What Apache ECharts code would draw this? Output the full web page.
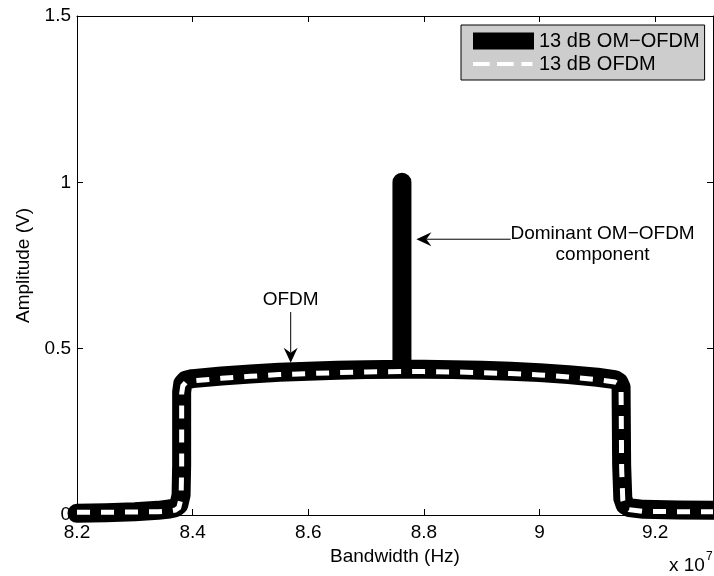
<!DOCTYPE html>
<html>
<head>
<meta charset="utf-8">
<script src="https://cdn.jsdelivr.net/npm/echarts@6/dist/echarts.min.js"></script>
<style>
  html, body { margin: 0; padding: 0; background: #fff; }
  #chart { width: 714px; height: 576px; }
</style>
</head>
<body>
<div id="chart"></div>
<script>
// 13 dB OM-OFDM spectrum: frequency (Hz) and amplitude (V)
const omFreq = [8.20e7, 8.25e7, 8.30e7, 8.34e7, 8.36e7, 8.370e7, 8.376e7, 8.380e7, 8.381e7, 8.381e7,
  8.383e7, 8.388e7, 8.40e7, 8.45e7, 8.50e7, 8.55e7, 8.60e7, 8.65e7, 8.70e7, 8.762e7, 8.762e7, 8.762e7,
  8.80e7, 8.85e7, 8.90e7, 8.95e7, 9.00e7, 9.05e7, 9.10e7, 9.13e7, 9.137e7, 9.141e7, 9.142e7, 9.144e7,
  9.148e7, 9.155e7, 9.18e7, 9.24e7, 9.30e7];
const omAmp = [0.005, 0.007, 0.010, 0.014, 0.018, 0.022, 0.030, 0.060, 0.150, 0.370,
  0.395, 0.405, 0.410, 0.418, 0.424, 0.429, 0.432, 0.435, 0.437, 0.438, 1.000, 0.438,
  0.438, 0.437, 0.435, 0.432, 0.428, 0.422, 0.414, 0.407, 0.400, 0.385, 0.150, 0.050,
  0.030, 0.022, 0.017, 0.015, 0.014];

// 13 dB OFDM spectrum
const ofdmFreq = [8.20e7, 8.25e7, 8.30e7, 8.34e7, 8.36e7, 8.370e7, 8.376e7, 8.380e7, 8.381e7, 8.381e7,
  8.383e7, 8.388e7, 8.40e7, 8.45e7, 8.50e7, 8.55e7, 8.60e7, 8.65e7, 8.70e7, 8.76e7,
  8.80e7, 8.85e7, 8.90e7, 8.95e7, 9.00e7, 9.05e7, 9.10e7, 9.13e7, 9.137e7, 9.141e7, 9.142e7, 9.144e7,
  9.148e7, 9.155e7, 9.18e7, 9.24e7, 9.30e7];
const ofdmAmp = [0.008, 0.008, 0.009, 0.010, 0.012, 0.015, 0.022, 0.050, 0.140, 0.365,
  0.388, 0.398, 0.403, 0.411, 0.417, 0.422, 0.425, 0.428, 0.430, 0.431,
  0.431, 0.430, 0.428, 0.425, 0.421, 0.415, 0.407, 0.400, 0.393, 0.378, 0.140, 0.045,
  0.025, 0.016, 0.011, 0.010, 0.010];

const seriesNames = ['13 dB OM\u2212OFDM', '13 dB OFDM'];

// Axis ranges
const xRange = [8.2e7, 9.3e7];
const xStep = 2e6;
const yRange = [0, 1.5];
const yStep = 0.5;

// Annotation anchors in data units: tail, tip and label centre
const peakNote = { text: 'Dominant OM\u2212OFDM\ncomponent', tail: [8.950e7, 0.829], tip: [8.787e7, 0.829], label: [9.109e7, 0.815] };
const ofdmNote = { text: 'OFDM', tail: [8.5696e7, 0.610], tip: [8.5696e7, 0.458], label: [8.5696e7, 0.6456] };

const FONT = 'Liberation Sans, Arial, Helvetica, sans-serif';
const FS = 19;

const pairs = (xs, ys) => xs.map((x, i) => [x, ys[i]]);

const baseAxis = {
  axisLine: { show: true, onZero: false, lineStyle: { color: '#000', width: 1 } },
  axisTick: { show: true, inside: true, length: 6, lineStyle: { color: '#000', width: 1 } },
  splitLine: { show: false },
  minorTick: { show: false }
};

// Legend keys drawn in a 61x17 box: a solid bar, and three white dashes
// (tiny corner squares pin the dash key to the full box)
const barIcon = 'path://M0,0h61v17h-61z';
const dashIcon = 'path://M0,0h0.01v0.01h-0.01zM60.99,16.99h0.01v0.01h-0.01z' +
  'M0,6.5h16.7v4h-16.7zM24,6.5h16.7v4h-16.7zM48.4,6.5h11v4h-11z';

const option = {
  animation: false,
  backgroundColor: '#fff',
  textStyle: { fontFamily: FONT, color: '#000' },
  grid: { left: 77, right: 1, top: 16, bottom: 61, containLabel: false, outerBoundsMode: 'none' },
  xAxis: [
    Object.assign({}, baseAxis, {
      type: 'value', position: 'bottom', min: xRange[0], max: xRange[1], interval: xStep,
      name: 'Bandwidth (Hz)', nameLocation: 'middle', nameGap: 29,
      nameTextStyle: { fontSize: FS, color: '#000', fontFamily: FONT },
      axisLabel: {
        show: true, fontSize: FS, color: '#000', margin: 8, fontFamily: FONT,
        showMaxLabel: false, showMinLabel: true,
        formatter: v => String(+(v / 1e7).toFixed(1))
      }
    }),
    Object.assign({}, baseAxis, {
      type: 'value', position: 'top', min: xRange[0], max: xRange[1], interval: xStep,
      axisLabel: { show: false }
    })
  ],
  yAxis: [
    Object.assign({}, baseAxis, {
      type: 'value', position: 'left', min: yRange[0], max: yRange[1], interval: yStep,
      name: 'Amplitude (V)', nameLocation: 'middle', nameGap: 44, nameRotate: 90,
      nameTextStyle: { fontSize: FS, color: '#000', fontFamily: FONT },
      axisLabel: { show: true, fontSize: FS, color: '#000', margin: 6, fontFamily: FONT }
    }),
    Object.assign({}, baseAxis, {
      type: 'value', position: 'right', min: yRange[0], max: yRange[1], interval: yStep,
      axisLabel: { show: false }
    })
  ],
  legend: {
    orient: 'vertical', left: 461, top: 25,
    padding: [5, 5, 5, 12], itemGap: 1, itemWidth: 61, itemHeight: 17,
    backgroundColor: '#cdcdcd', borderColor: '#000', borderWidth: 1, borderRadius: 0,
    selectedMode: false,
    textStyle: { fontSize: 20, color: '#000', lineHeight: 22, fontFamily: FONT },
    data: [
      { name: seriesNames[0], icon: barIcon, itemStyle: { color: '#000', borderWidth: 0 } },
      { name: seriesNames[1], icon: dashIcon, itemStyle: { color: '#fff', borderWidth: 0 } }
    ]
  },
  series: [
    {
      name: seriesNames[0], type: 'line', xAxisIndex: 0, yAxisIndex: 0,
      data: pairs(omFreq, omAmp), symbol: 'none', showSymbol: false, clip: true,
      color: '#000',
      lineStyle: { color: '#000', width: 19, cap: 'round', join: 'round' },
      z: 2
    },
    {
      name: seriesNames[1], type: 'line', xAxisIndex: 0, yAxisIndex: 0,
      data: pairs(ofdmFreq, ofdmAmp), symbol: 'none', showSymbol: false, clip: true,
      color: '#fff',
      lineStyle: { color: '#fff', width: 5, type: [13, 11], cap: 'butt', join: 'miter' },
      z: 3
    }
  ]
};

const chart = echarts.init(document.getElementById('chart'), null, { renderer: 'canvas' });
chart.setOption(option);

const toPx = p => chart.convertToPixel({ xAxisIndex: 0, yAxisIndex: 0 }, p);

// Line with a notched arrowhead at the tip
function arrow(tailData, tipData) {
  const a = toPx(tailData), b = toPx(tipData);
  const dx = b[0] - a[0], dy = b[1] - a[1];
  const len = Math.hypot(dx, dy);
  const ux = dx / len, uy = dy / len;
  const nx = -uy, ny = ux;
  const L = 15, W = 7, N = 10;
  const head = [
    [b[0], b[1]],
    [b[0] - ux * L + nx * W, b[1] - uy * L + ny * W],
    [b[0] - ux * N, b[1] - uy * N],
    [b[0] - ux * L - nx * W, b[1] - uy * L - ny * W]
  ];
  return [
    { type: 'line', shape: { x1: a[0], y1: a[1], x2: b[0] - ux * N, y2: b[1] - uy * N },
      style: { stroke: '#000', lineWidth: 1 }, z: 10 },
    { type: 'polygon', shape: { points: head }, style: { fill: '#000' }, z: 10 }
  ];
}

function note(n) {
  const c = toPx(n.label);
  return {
    type: 'text', x: c[0], y: c[1], z: 10,
    style: { text: n.text, fill: '#000', font: FS + 'px ' + FONT, align: 'center', verticalAlign: 'middle', lineHeight: 21 }
  };
}

chart.setOption({
  graphic: [
    ...arrow(peakNote.tail, peakNote.tip),
    note(peakNote),
    ...arrow(ofdmNote.tail, ofdmNote.tip),
    note(ofdmNote),
    { type: 'text', x: 669, y: 566, z: 10,
      style: { text: 'x 10', fill: '#000', font: FS + 'px ' + FONT, align: 'left', verticalAlign: 'middle' } },
    { type: 'text', x: 706, y: 557, z: 10,
      style: { text: '7', fill: '#000', font: '12px ' + FONT, align: 'left', verticalAlign: 'middle' } }
  ]
});
</script>
</body>
</html>
